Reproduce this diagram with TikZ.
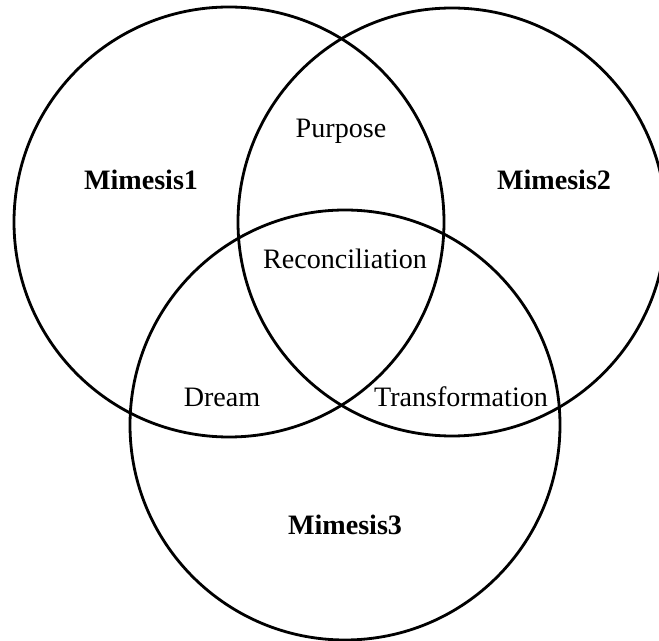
\documentclass[tikz,border=0pt]{standalone}
\usepackage{fontspec}
\setmainfont{Liberation Serif}
\usetikzlibrary{
    positioning
}
\tikzset{
  ring/.style  = {draw=black, line width=1.6pt},
  lbl/.style   = {anchor=base, inner sep=0pt, font=\fontsize{16}{19}\selectfont},
  blbl/.style  = {lbl, font=\fontsize{16}{19}\selectfont\bfseries}
}

\begin{document}
\begin{tikzpicture}[x=0.02cm, y=-0.02cm]
    \useasboundingbox (0,0) rectangle (659,641);
    \coordinate (c1) at (229,222);
    \coordinate (c2) at (452,222);
    \coordinate (c3) at (345,425);
    \draw[ring] (c1) circle[radius=215];
    \draw[ring] (c2) circle[radius=214];
    \draw[ring] (c3) circle[radius=215];
    \node[blbl](m1) at (141,190) {Mimesis1};
    \node[blbl](m2) at (554,190) {Mimesis2};
    \node[blbl](m3) at (345,534) {Mimesis3};
    \node[lbl](purpose) at (341,138) {Purpose};
    \node[lbl](recon) at (345,269) {Reconciliation};
    \node[lbl](dream) at (222,407) {Dream};
    \node[lbl](trans) at (461,407) {Transformation};
  \end{tikzpicture}
\end{document}
